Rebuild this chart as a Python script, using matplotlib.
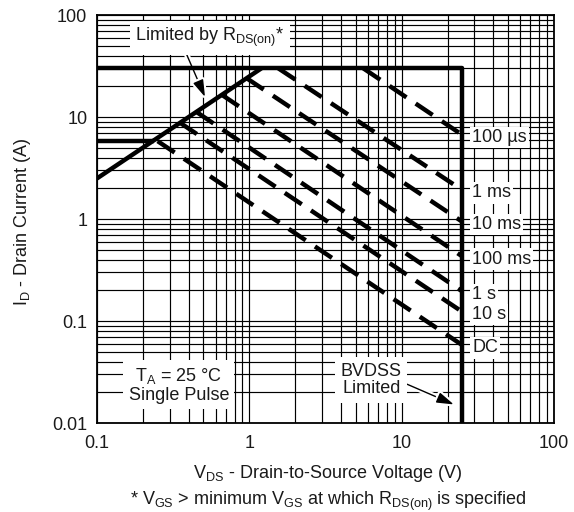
import numpy as np
import matplotlib.pyplot as plt
import matplotlib.patheffects as pe
from matplotlib.ticker import LogLocator, NullFormatter, FixedFormatter, FixedLocator

plt.rcParams['font.family'] = ['Liberation Sans', 'DejaVu Sans']
plt.rcParams['mathtext.fontset'] = 'custom'
plt.rcParams['mathtext.rm'] = 'Liberation Sans'
plt.rcParams['mathtext.it'] = 'Liberation Sans'

# limits of the safe operating area
v_bvdss = 25.0      # breakdown voltage (V)
i_pulse = 30.0      # pulsed current limit (A)
i_cont = 5.8        # continuous current limit (A)
v_cont = 0.235      # where the continuous limit meets R_DS(on)
rds_v = [0.1, 1.2]  # R_DS(on) limit line
rds_i = [2.5, 30.0]

# pulse width curves: start point on the limit, end point at BVDSS
pulse_labels = ['100 µs', '1 ms', '10 ms', '100 ms', '1 s', '10 s', 'DC']
pulse_v0 = [5.6, 1.55, 0.96, 0.66, 0.45, 0.35, 0.25]
pulse_i0 = [30.0, 30.0, 24.0, 16.5, 11.2, 8.8, 5.8]
pulse_i1 = [6.67, 1.92, 0.94, 0.43, 0.195, 0.123, 0.058]

x_ticks = [0.1, 1, 10, 100]
x_ticklabels = ['0.1', '1', '10', '100']
y_ticks = [0.01, 0.1, 1, 10, 100]
y_ticklabels = ['0.01', '0.1', '1', '10', '100']

FS = 13
TXT = '#1a1a1a'

fig = plt.figure(figsize=(5.74, 5.12), dpi=100)
ax = fig.add_axes([97 / 574, 1 - 423 / 512, 457 / 574, 408 / 512])
ax.set_xscale('log')
ax.set_yscale('log')
ax.set_xlim(0.1, 100)
ax.set_ylim(0.01, 100)

ax.xaxis.set_major_locator(FixedLocator(x_ticks))
ax.xaxis.set_major_formatter(FixedFormatter(x_ticklabels))
ax.yaxis.set_major_locator(FixedLocator(y_ticks))
ax.yaxis.set_major_formatter(FixedFormatter(y_ticklabels))
ax.xaxis.set_minor_locator(LogLocator(base=10, subs=np.arange(2, 10)))
ax.yaxis.set_minor_locator(LogLocator(base=10, subs=np.arange(2, 10)))
ax.xaxis.set_minor_formatter(NullFormatter())
ax.yaxis.set_minor_formatter(NullFormatter())
ax.tick_params(which='both', length=0, labelsize=FS, colors=TXT)
ax.tick_params(axis='x', pad=9)
ax.tick_params(axis='y', pad=7)
ax.grid(True, which='both', color='black', linewidth=0.85)
ax.set_axisbelow(True)
for s in ax.spines.values():
    s.set_linewidth(1.3)

thick = dict(color='black', linewidth=3.2, solid_capstyle='butt', zorder=6)
# outer boundary
ax.plot([0.1, v_bvdss, v_bvdss], [i_pulse, i_pulse, 0.01], **thick)
ax.plot([0.1, v_cont], [i_cont, i_cont], **thick)
ax.plot(rds_v, rds_i, **thick)

for lab, v0, i0, i1 in zip(pulse_labels, pulse_v0, pulse_i0, pulse_i1):
    ax.plot([v0, v_bvdss], [i0, i1], color='black', linewidth=3.2,
            linestyle=(0, (4.6, 2.5)), dash_capstyle='butt', zorder=6)
    ax.annotate(lab, xy=(v_bvdss, i1), xytext=(7, -2), textcoords='offset points',
                ha='left', va='center', fontsize=FS, color=TXT, zorder=5,
                bbox=dict(boxstyle='square,pad=0.12', fc='white', ec='none'))

box = dict(boxstyle='square,pad=0.3', fc='white', ec='none')
halo = [pe.withStroke(linewidth=4, foreground='white')]

a1 = ax.annotate('Limited by R$_\\mathregular{DS(on)}$*', xy=(0.512, 15.7), xytext=(0.247, 0.944),
                 textcoords='axes fraction', ha='center', va='center', fontsize=FS,
                 color=TXT, bbox=box, zorder=5,
                 arrowprops=dict(arrowstyle='-|>,head_length=0.8,head_width=0.25', color='black',
                                 lw=1.0, shrinkA=0, shrinkB=0, relpos=(0.33, 0.0)))
a1.arrow_patch.set_path_effects(halo)

ax.text(0.179, 0.093, 'T$_\\mathregular{A}$ = 25 °C\nSingle Pulse', transform=ax.transAxes,
        ha='center', va='center', fontsize=FS, color=TXT, bbox=box, zorder=5,
        linespacing=1.05)

a2 = ax.annotate('BVDSS\nLimited', xy=(22.0, 0.0152), xytext=(0.60, 0.105),
                 textcoords='axes fraction', ha='center', va='center', fontsize=FS,
                 color=TXT, bbox=box, zorder=5, linespacing=1.05,
                 arrowprops=dict(arrowstyle='-|>,head_length=0.8,head_width=0.25', color='black',
                                 lw=1.0, shrinkA=0, shrinkB=0, relpos=(1.0, 0.45)))
a2.arrow_patch.set_path_effects(halo)

fig.text(328 / 574, 1 - 474 / 512, 'V$_\\mathregular{DS}$ - Drain-to-Source Voltage (V)',
         ha='center', va='center', fontsize=FS, color=TXT)
fig.text(328 / 574, 1 - 501 / 512,
         '* V$_\\mathregular{GS}$ > minimum V$_\\mathregular{GS}$ at which R$_\\mathregular{DS(on)}$ is specified',
         ha='center', va='center', fontsize=FS, color=TXT)
fig.text(23 / 574, 1 - 222 / 512, 'I$_\\mathregular{D}$ - Drain Current (A)', rotation=90,
         ha='center', va='center', fontsize=FS, color=TXT)

fig.savefig('out.png', dpi=100, facecolor='white')
